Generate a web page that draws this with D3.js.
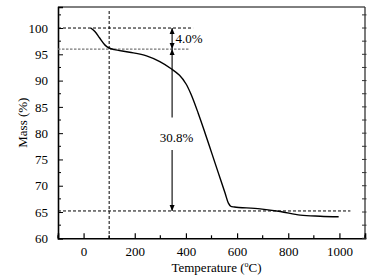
<!DOCTYPE html>
<html><head><meta charset="utf-8">
<script src="https://cdn.jsdelivr.net/npm/d3@7"></script>
<style>body{margin:0;background:#fff}svg{display:block}</style>
</head><body><svg id="c" width="375" height="278"></svg>
<script>
const temps = [28,45,63,85,100,120,180,246,298,344,375,400,420,448,475,501,527,553,566,575,590,690,769,847,925,997];
const mass  = [100,99.3,98.1,96.7,96.2,95.9,95.4,94.7,93.6,92.2,91.0,89.4,87.4,83.8,80.0,76.2,72.4,68.6,66.7,66.1,65.95,65.6,65.1,64.4,64.2,64.1];
const xMajor = [0,200,400,600,800,1000];
const xMinor = [-100,100,300,500,700,900,1100];
const yMajor = [60,65,70,75,80,85,90,95,100];
const yMinor = [62.5,67.5,72.5,77.5,82.5,87.5,92.5,97.5,102.5];
const levels = [100,96,65.2];
const labels = ["4.0%","30.8%"];
const markTemp = 100, arrowTemp = 346;

const svg = d3.select("#c");
const L=58,R=365,T=7,B=238.3;
const x = d3.scaleLinear().domain([-100,1100]).range([L,R]);
const y = d3.scaleLinear().domain([60,104]).range([B,T]);
const FF = "Liberation Serif";

// frame
svg.append("line").attr("x1",L).attr("x2",R).attr("y1",T).attr("y2",T).attr("stroke","#000").attr("stroke-width",1);
svg.append("line").attr("x1",R).attr("x2",R).attr("y1",T).attr("y2",B).attr("stroke","#333").attr("stroke-width",1.3);

// bottom axis
const gx = svg.append("g").attr("transform",`translate(0,${B})`);
gx.call(d3.axisBottom(x).tickValues(xMajor).tickSize(-5).tickPadding(8).tickFormat(d3.format("d")));
gx.attr("font-family",FF).attr("font-size",13);
gx.selectAll(".tick line").attr("stroke-width",1.2);
gx.selectAll(".tick text").attr("font-size",13).attr("font-family",FF).attr("fill","#000");
gx.select(".domain").attr("stroke-width",1.6);
gx.selectAll(".mt").data(xMinor).join("line").attr("x1",d=>x(d)).attr("x2",d=>x(d)).attr("y1",0).attr("y2",-3).attr("stroke","#000").attr("stroke-width",1.2);

// left axis
const gy = svg.append("g").attr("transform",`translate(${L},0)`);
gy.call(d3.axisLeft(y).tickValues(yMajor).tickSize(-5).tickPadding(10).tickFormat(d3.format("d")));
gy.attr("font-family",FF).attr("font-size",13);
gy.selectAll(".tick text").attr("font-size",13).attr("font-family",FF).attr("fill","#000");
gy.select(".domain").attr("stroke-width",1.6);
gy.selectAll(".mt").data(yMinor).join("line").attr("x1",0).attr("x2",3).attr("y1",d=>y(d)).attr("y2",d=>y(d)).attr("stroke","#000");

// right axis ticks
const gr = svg.append("g").attr("transform",`translate(${R},0)`);
gr.selectAll("line").data(yMajor.concat(yMinor)).join("line").attr("x1",-3).attr("x2",1.5).attr("y1",d=>y(d)).attr("y2",d=>y(d)).attr("stroke","#333");

// reference lines
svg.append("line").attr("x1",x(markTemp)).attr("x2",x(markTemp)).attr("y1",T+4).attr("y2",B).attr("stroke","#000").attr("stroke-dasharray","3,2").attr("stroke-width",1);
svg.append("line").attr("x1",L).attr("x2",x(428)).attr("y1",y(levels[0])).attr("y2",y(levels[0])).attr("stroke","#000").attr("stroke-dasharray","3,2");
svg.append("line").attr("x1",L).attr("x2",x(410)).attr("y1",y(levels[1])).attr("y2",y(levels[1])).attr("stroke","#777").attr("stroke-dasharray","2.5,1.5").attr("stroke-width",1.2);
svg.append("line").attr("x1",L).attr("x2",x(1043)).attr("y1",y(levels[2])).attr("y2",y(levels[2])).attr("stroke","#000").attr("stroke-dasharray","3,2");

// curve
const pts = temps.map((t,i)=>[t,mass[i]]);
svg.append("path").datum(pts).attr("fill","none").attr("stroke","#000").attr("stroke-width",1.4)
  .attr("d",d3.line().x(d=>x(d[0])).y(d=>y(d[1])).curve(d3.curveCatmullRom.alpha(0.5)));

// arrows
const ax = x(arrowTemp);
function head(tipY, dir){
  svg.append("path").attr("d",`M${ax},${tipY} L${ax-2.5},${tipY-dir*6} L${ax+2.5},${tipY-dir*6} Z`).attr("fill","#000");
}
function seg(y1,y2){svg.append("line").attr("x1",ax).attr("x2",ax).attr("y1",y1).attr("y2",y2).attr("stroke","#000").attr("stroke-width",1.1);}
seg(y(levels[0]),y(levels[1]));
head(y(levels[0]),-1); head(y(levels[1]),1);
seg(y(levels[1]),y(83));
head(y(levels[1]),-1);
seg(y(76.8),y(levels[2]));
head(y(levels[2]),1);

svg.append("text").attr("x",ax+3.5).attr("y",43).attr("font-size",13).attr("font-family",FF).text(labels[0]);
svg.append("text").attr("x",ax+4.5).attr("y",141.5).attr("font-size",13).attr("font-family",FF).attr("text-anchor","middle").text(labels[1]);

// axis titles
svg.append("text").attr("transform",`translate(27,${(T+B)/2}) rotate(-90)`).attr("text-anchor","middle").attr("font-size",13).attr("font-family",FF).text("Mass (%)");
const xt = svg.append("text").attr("x",(L+R)/2+5).attr("y",272).attr("text-anchor","middle").attr("font-size",13).attr("font-family",FF);
xt.append("tspan").text("Temperature (");
xt.append("tspan").attr("font-size",8).attr("dy",-5).text("o");
xt.append("tspan").attr("dy",5).text("C)");
</script></body></html>
